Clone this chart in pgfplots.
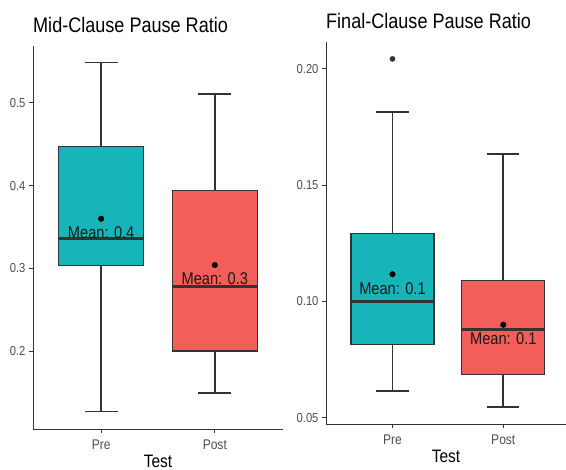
\documentclass[border=0pt]{standalone}
\usepackage{fontspec}
\setmainfont{Liberation Sans}[FakeStretch=0.86]
\usepackage{pgfplots}
\pgfplotsset{compat=1.18}
\usepgfplotslibrary{statistics}
\definecolor{ggteal}{RGB}{23,181,186}
\definecolor{ggred}{RGB}{243,94,90}
\definecolor{ggdark}{RGB}{51,51,51}
\definecolor{gggray}{RGB}{77,77,77}
\pgfplotsset{
  gg/.style={
    scale only axis,
    axis lines=left,
    axis line style={-, line width=0.9pt, ggdark},
    every outer x axis line/.append style={-},
    every outer y axis line/.append style={-},
    tick align=outside,
    major tick length=4pt,
    xtick style={line width=1pt, draw=ggdark, solid},
    ytick style={line width=1pt, draw=ggdark, solid},
    xmin=0.4, xmax=2.6,
    xtick={1,2}, xticklabels={Pre,Post},
    xlabel={Test},
    clip=false,
    /pgf/number format/assume math mode=true,
    xticklabel style={font=\fontsize{14}{16}\selectfont, text=gggray, yshift=-3pt},
    yticklabel style={font=\fontsize{13}{15}\selectfont, text=gggray},
    xlabel style={font=\fontsize{18}{21}\selectfont, at={(axis description cs:0.5,0)}, anchor=center, yshift=-32pt},
    title style={font=\fontsize{21}{25}\selectfont, at={(axis description cs:0,1)}, anchor=base west, inner sep=0pt},
    boxplot/draw direction=y,
    boxplot/box extend=0.75,
    boxplot/whisker extend=0.29,
    boxplot/every median/.style={line width=2.8pt, draw=ggdark},
    boxplot/every box/.style={line width=1.2pt, draw=ggdark},
    boxplot/every whisker/.style={line width=1.7pt, draw=ggdark},
    meanlab/.style={only marks, mark=*, mark size=2.8pt, black,
      nodes near coords, point meta=explicit symbolic,
      every node near coord/.append style={anchor=center, yshift=-14pt, font=\fontsize{17}{20}\selectfont, text=black!90}},
  }
}
\begin{document}
\begin{tikzpicture}
\path[use as bounding box] (0,0) rectangle (566pt,470pt);
% Left panel
\begin{axis}[gg,
  at={(33pt,41pt)}, anchor=south west,
  width=250pt, height=383pt,
  ymin=0.1057, ymax=0.5689,
  ytick={0.2,0.3,0.4,0.5},
  yticklabel style={/pgf/number format/.cd, fixed, precision=1, fixed zerofill},
  title style={yshift=7pt},
  title={Mid-Clause Pause Ratio}]
\addplot+[boxplot prepared={draw position=1, lower whisker=0.127, lower quartile=0.303, median=0.336, upper quartile=0.447, upper whisker=0.549}, fill=ggteal, draw=ggdark, mark=none, solid] coordinates {};
\addplot+[boxplot prepared={draw position=2, lower whisker=0.149, lower quartile=0.200, median=0.278, upper quartile=0.394, upper whisker=0.511}, fill=ggred, draw=ggdark, mark=none, solid] coordinates {};
\addplot[meanlab] coordinates {(1,0.360) [Mean: 0.4] (2,0.304) [Mean: 0.3]};
\end{axis}
% Right panel
\begin{axis}[gg,
  at={(326pt,45.7pt)}, anchor=south west,
  width=240pt, height=382.6pt,
  xmax=2.566,
  ymin=0.0472, ymax=0.2117,
  ytick={0.05,0.10,0.15,0.20},
  yticklabel style={/pgf/number format/.cd, fixed, precision=2, fixed zerofill},
  title style={yshift=7pt},
  title={Final-Clause Pause Ratio}]
\addplot+[boxplot prepared={draw position=1, lower whisker=0.0614, lower quartile=0.0814, median=0.100, upper quartile=0.1294, upper whisker=0.1816}, fill=ggteal, draw=ggdark, mark=none, solid] coordinates {};
\addplot+[boxplot prepared={draw position=2, lower whisker=0.0547, lower quartile=0.0687, median=0.088, upper quartile=0.109, upper whisker=0.1633}, fill=ggred, draw=ggdark, mark=none, solid] coordinates {};
\addplot[only marks, mark=*, mark size=2.6pt, ggdark] coordinates {(1,0.2043)};
\addplot[meanlab] coordinates {(1,0.1117) [Mean: 0.1] (2,0.090) [Mean: 0.1]};
\end{axis}
\end{tikzpicture}
\end{document}
